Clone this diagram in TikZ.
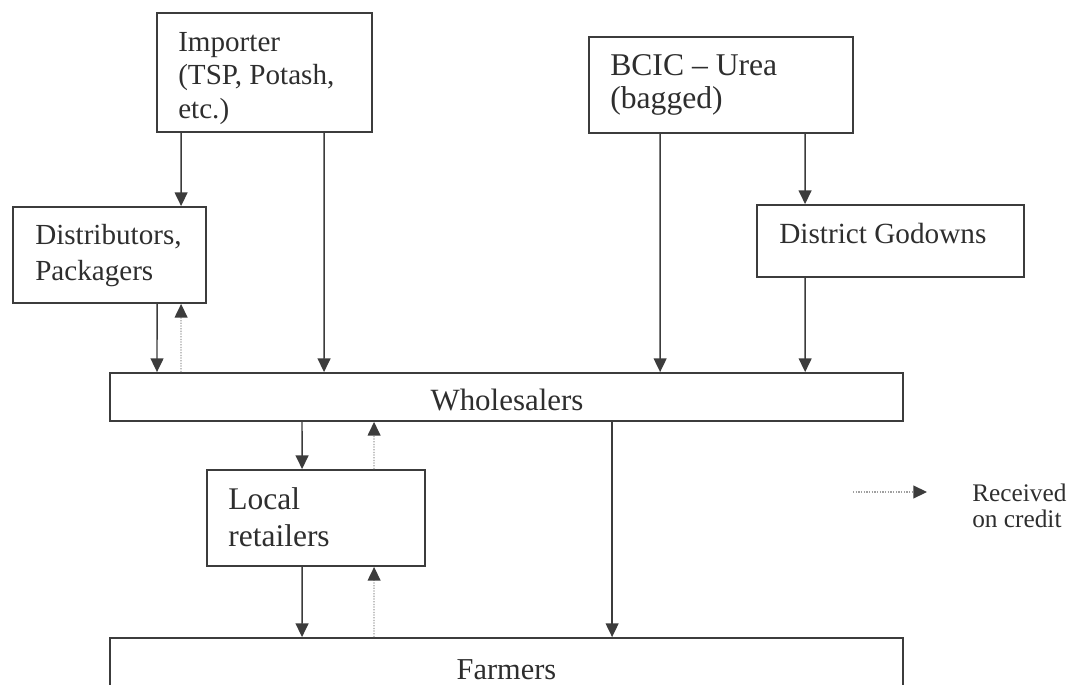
\documentclass[tikz,border=0pt]{standalone}
\usepackage{fontspec}
\setmainfont{Liberation Serif}
\usetikzlibrary{arrows.meta}

\definecolor{inkc}{HTML}{2E2E2E}
\definecolor{linec}{HTML}{3C3C3C}
\definecolor{creditc}{HTML}{A0A0A0}

\tikzset{
    box/.style={draw=linec, line width=1.3pt, inner sep=0pt},
    lbl/.style={text=inkc, inner sep=0pt, align=left},
    flow/.style={draw=linec, line width=1pt, -{Triangle[length=0.34cm,width=0.32cm]}},
    credit/.style={draw=creditc, line width=0.9pt, densely dotted,
        -{Triangle[length=0.34cm,width=0.32cm,color=linec]}}
}

\begin{document}
\begin{tikzpicture}[x=0.025cm,y=-0.025cm]
        \useasboundingbox (0,0) rectangle (1072,684);

        % suppliers
        \node[box, minimum width=5.375cm, minimum height=2.975cm] (imp) at (264.5,72.5) {};
        \node[box, minimum width=6.6cm, minimum height=2.4cm] (bcic) at (721,85) {};
        \node[lbl, anchor=base west, font=\fontsize{20.7}{23.5}\selectfont] (impt) at (178,118)
            {Importer\\(TSP, Potash,\\etc.)};
        \node[lbl, anchor=base west, font=\fontsize{22.5}{22.8}\selectfont] (bcict) at (610,108)
            {BCIC -- Urea\\(bagged)};

        % intermediaries
        \node[box, minimum width=4.825cm, minimum height=2.4cm] (dist) at (109.5,255) {};
        \node[box, minimum width=6.675cm, minimum height=1.8cm] (godown) at (890.5,241) {};
        \node[lbl, anchor=base west, font=\fontsize{20.7}{24.9}\selectfont] (distt) at (35,280)
            {Distributors,\\Packagers};
        \node[lbl, anchor=base west, font=\fontsize{20.8}{24}\selectfont] (godownt) at (779,243)
            {District Godowns};

        % wholesale, retail, farm
        \node[box, minimum width=19.825cm, minimum height=1.2cm] (whole) at (506.5,397) {};
        \node[box, minimum width=5.45cm, minimum height=2.4cm] (local) at (316,518) {};
        \node[box, minimum width=19.825cm, minimum height=1.55cm] (farm) at (506.5,669) {};
        \node[lbl, anchor=base, font=\fontsize{22}{24}\selectfont] (wholet) at (507,410) {Wholesalers};
        \node[lbl, anchor=base west, font=\fontsize{22.4}{26.3}\selectfont] (localt) at (228,546)
            {Local\\retailers};
        \node[lbl, anchor=base, font=\fontsize{21.6}{24}\selectfont] (farmt) at (506.5,679) {Farmers};

        % goods
        \draw[flow] ([xshift=0.625cm]imp.south west) -- ([xshift=4.225cm]dist.north west);
        \draw[flow] ([xshift=4.2cm]imp.south west) -- ([xshift=5.375cm]whole.north west);
        \draw[flow] ([xshift=1.8cm]bcic.south west) -- ([xshift=13.775cm]whole.north west);
        \draw[flow] ([xshift=5.425cm]bcic.south west) -- ([xshift=1.225cm]godown.north west);
        \draw[flow] ([xshift=1.225cm]godown.south west) -- ([xshift=17.4cm]whole.north west);
        \draw[flow] ([xshift=3.625cm]dist.south west) -- ([xshift=1.2cm]whole.north west);
        \draw[flow] ([xshift=4.825cm]whole.south west) -- ([xshift=2.4cm]local.north west);
        \draw[flow] ([xshift=2.4cm]local.south west) -- ([xshift=4.825cm]farm.north west);
        \draw[flow] ([xshift=12.575cm]whole.south west) -- ([xshift=12.575cm]farm.north west);

        % credit
        \draw[credit] ([xshift=1.8cm]whole.north west) -- ([xshift=4.225cm]dist.south west);
        \draw[credit] ([xshift=4.2cm]local.north west) -- ([xshift=6.625cm]whole.south west);
        \draw[credit] ([xshift=6.625cm]farm.north west) -- ([xshift=4.2cm]local.south west);

        % legend
        \coordinate (lg1) at (853,492);
        \coordinate (lg2) at (927,492);
        \draw[credit] (lg1) -- (lg2);
        \node[lbl, anchor=base west, font=\fontsize{18}{17.8}\selectfont] (lgt) at (972,527)
            {Received\\on credit};
\end{tikzpicture}
\end{document}
